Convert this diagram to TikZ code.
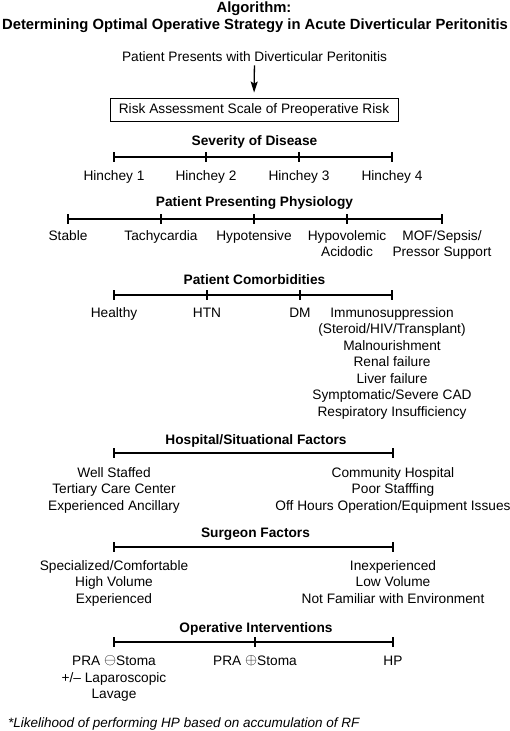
\documentclass[tikz,border=0pt]{standalone}
\usepackage{amsmath,amssymb}
\usepackage{fontspec}
\setmainfont{Liberation Sans}
\usetikzlibrary{arrows.meta,calc}

\newcommand{\circsym}[1]{\raisebox{1.2pt}{\scalebox{1.08}{$#1$}}}

\begin{document}
\begin{tikzpicture}[x=1pt,y=-1pt,
		txt/.style={font=\fontsize{13.7}{16.5}\selectfont,align=center,inner sep=0pt,anchor=base},
		hdr/.style={txt,font=\fontsize{13.7}{16.5}\selectfont\bfseries},
		bar/.style={line width=2.5pt},
		tickmark/.style={line width=1.6pt}]
				\useasboundingbox (0,0) rectangle (510,731);
				% title
				\node[txt,font=\fontsize{14.8}{17}\selectfont\bfseries] (title1) at (254,12) {Algorithm:};
				\node[txt,font=\fontsize{14.8}{17}\selectfont\bfseries] (title2) at (255,29) {Determining Optimal Operative Strategy in Acute Diverticular Peritonitis};
				\node[txt] (patient) at (254.5,61) {Patient Presents with Diverticular Peritonitis};
				\node[draw,line width=0.9pt,minimum width=288pt,minimum height=23pt,inner sep=0pt,font=\fontsize{13.7}{16.5}\selectfont] (risk) at (254,109.5) {Risk Assessment Scale of Preoperative Risk};
				\draw[line width=1.3pt,-{Stealth[length=11pt,width=7pt,inset=2pt]},shorten <=4pt,shorten >=5pt] (patient.south) -- (risk.north);
				% scales
				\coordinate (sev1) at (114,157); \coordinate (sev2) at (206,157); \coordinate (sev3) at (299,157); \coordinate (sev4) at (392,157);
				\coordinate (phy1) at (68,219); \coordinate (phy2) at (161,219); \coordinate (phy3) at (254,219); \coordinate (phy4) at (347,219); \coordinate (phy5) at (442,219);
				\coordinate (com1) at (114,295); \coordinate (com2) at (207,295); \coordinate (com3) at (300,295); \coordinate (com4) at (392,295);
				\coordinate (hos1) at (114,453); \coordinate (hos2) at (393,453);
				\coordinate (sur1) at (114,547); \coordinate (sur2) at (393,547);
				\coordinate (opr1) at (114,642); \coordinate (opr2) at (255,642); \coordinate (opr3) at (393,642);
				\draw[bar] (sev1) -- (sev4);
				\draw[bar] (phy1) -- (phy5);
				\draw[bar] (com1) -- (com4);
				\draw[bar] (hos1) -- (hos2);
				\draw[bar] (sur1) -- (sur2);
				\draw[bar] (opr1) -- (opr3);
				\foreach \t in {sev1,sev2,sev3,sev4,phy1,phy2,phy3,phy4,phy5,com1,com2,com3,com4,hos1,hos2,sur1,sur2,opr1,opr2,opr3}
					\draw[tickmark] ($(\t)+(0,-5)$) -- ($(\t)+(0,5)$);
				% severity
				\node[hdr] (sevhead) at (254.5,145) {Severity of Disease};
				\node[txt] (hin1) at ($(sev1)+(0,23)$) {Hinchey 1};
				\node[txt] (hin2) at ($(sev2)+(0,23)$) {Hinchey 2};
				\node[txt] (hin3) at ($(sev3)+(0,23)$) {Hinchey 3};
				\node[txt] (hin4) at ($(sev4)+(0,23)$) {Hinchey 4};
				% physiology (base = last line)
				\node[hdr] (phyhead) at (254.5,206) {Patient Presenting Physiology};
				\node[txt] (stable) at ($(phy1)+(0,21)$) {Stable};
				\node[txt] (tachy) at ($(phy2)+(0,21)$) {Tachycardia};
				\node[txt] (hypot) at ($(phy3)+(0,21)$) {Hypotensive};
				\node[txt] (hypov) at ($(phy4)+(0,37.5)$) {Hypovolemic\\Acidodic};
				\node[txt] (mof) at ($(phy5)+(0,37.5)$) {MOF/Sepsis/\\Pressor Support};
				% comorbidities
				\node[hdr] (comhead) at (254.5,284.5) {Patient Comorbidities};
				\node[txt] (healthy) at ($(com1)+(0,22)$) {Healthy};
				\node[txt] (htn) at ($(com2)+(0,22)$) {HTN};
				\node[txt] (dm) at ($(com3)+(0,22)$) {DM};
				\node[txt] (immuno) at ($(com4)+(0,121)$) {Immunosuppression\\(Steroid/HIV/Transplant)\\Malnourishment\\Renal failure\\Liver failure\\Symptomatic/Severe CAD\\Respiratory Insufficiency};
				% hospital
				\node[hdr] (hoshead) at (256,444) {Hospital/Situational Factors};
				\node[txt] (hosgood) at ($(hos1)+(0,57)$) {Well Staffed\\Tertiary Care Center\\Experienced Ancillary};
				\node[txt] (hosbad) at ($(hos2)+(0,57)$) {Community Hospital\\Poor Stafffing\\Off Hours Operation/Equipment Issues};
				% surgeon
				\node[hdr] (surhead) at (255.5,537.5) {Surgeon Factors};
				\node[txt] (surgood) at ($(sur1)+(0,56)$) {Specialized/Comfortable\\High Volume\\Experienced};
				\node[txt] (surbad) at ($(sur2)+(0,56)$) {Inexperienced\\Low Volume\\Not Familiar with Environment};
				% interventions
				\node[hdr] (oprhead) at (256,632) {Operative Interventions};
				\node[txt] (pra1) at ($(opr1)+(0,56.5)$) {PRA \circsym{\ominus}Stoma\\+/\textendash{} Laparoscopic\\Lavage};
				\node[txt] (pra2) at ($(opr2)+(0,23.5)$) {PRA \circsym{\oplus}Stoma};
				\node[txt] (hp) at ($(opr3)+(0,23.5)$) {HP};
				\node[txt,anchor=base west,font=\fontsize{13.5}{16}\selectfont\itshape] (note) at (8,727) {*Likelihood of performing HP based on accumulation of RF};
		\end{tikzpicture}
\end{document}
